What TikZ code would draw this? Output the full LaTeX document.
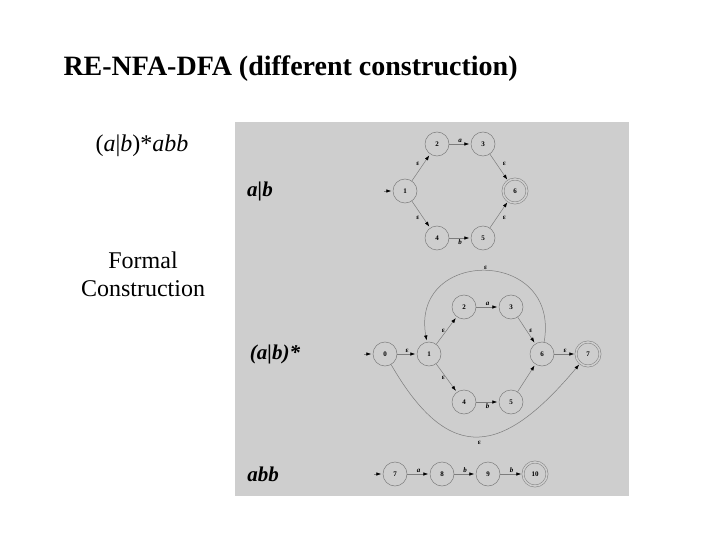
\documentclass[tikz,border=0pt]{standalone}
\usepackage{fontspec}
\setmainfont{Liberation Serif}
\usetikzlibrary{arrows.meta}
\definecolor{panelgray}{RGB}{206,206,206}
\definecolor{linegray}{RGB}{125,125,125}
\tikzset{
  state/.style={circle, draw=linegray, line width=0.5pt, minimum size=24pt, inner sep=0pt,
    font=\fontsize{7}{7}\selectfont\bfseries},
  accept/.style={state, double=panelgray, double distance=1.6pt},
  edge/.style={draw=linegray, line width=0.5pt, -{Latex[length=5pt,width=3.5pt,color=black]}, shorten >=1.5pt},
  lab/.style={font=\fontsize{7}{7}\selectfont\bfseries, inner sep=1.5pt},
  sym/.style={lab, font=\fontsize{7}{7}\selectfont\bfseries\itshape},
  rexp/.style={font=\fontsize{21}{21}\selectfont\bfseries\itshape},
}
\begin{document}
\begin{tikzpicture}[x=1pt,y=1pt]
  \useasboundingbox (0,0) rectangle (720,-540);
  \fill[panelgray] (235,-122) rectangle (629,-496);

  % heading and left column
  \node[anchor=base west, font=\fontsize{28}{28}\selectfont\bfseries] (title) at (60,-76)
    {RE-NFA-DFA (different construction)};
  \node[font=\fontsize{24}{24}\selectfont] (regex) at (142,-146) {(\textit{a}|\textit{b})*\textit{abb}};
  \node[font=\fontsize{24}{28}\selectfont, align=center] (formal) at (143,-274) {Formal\\Construction};

  % labels in the panel
  \node[rexp] (lab1) at (260,-191) {a|b};
  \node[rexp] (lab2) at (275,-354) {(a|b)*};
  \node[rexp] (lab3) at (263,-474) {abb};

  % a|b
  \node[state]  (a1) at (405,-191) {1};
  \node[state]  (a2) at (437,-144) {2};
  \node[state]  (a3) at (483,-144) {3};
  \node[state]  (a4) at (437,-238) {4};
  \node[state]  (a5) at (483,-238) {5};
  \node[accept] (a6) at (515,-191) {6};
  \coordinate (s1) at (384,-191);
  \draw[edge] (s1) -- (a1);
  \draw[edge] (a1) -- node[lab, above left] {ε} (a2);
  \draw[edge] (a2) -- node[sym, above] {a} (a3);
  \draw[edge] (a3) -- node[lab, above right, xshift=2pt] {ε} (a6);
  \draw[edge] (a1) -- node[lab, below left] {ε} (a4);
  \draw[edge] (a4) -- node[sym, below] {b} (a5);
  \draw[edge] (a5) -- node[lab, below right, xshift=2pt] {ε} (a6);

  % (a|b)*
  \node[state]  (b0) at (385,-354) {0};
  \node[state]  (b1) at (429,-354) {1};
  \node[state]  (b2) at (464,-307) {2};
  \node[state]  (b3) at (511,-307) {3};
  \node[state]  (b4) at (464,-402) {4};
  \node[state]  (b5) at (511,-402) {5};
  \node[state]  (b6) at (542,-354) {6};
  \node[accept] (b7) at (588,-354) {7};
  \coordinate (s2) at (364,-354);
  \draw[edge] (s2) -- (b0);
  \draw[edge] (b0) -- node[lab, above] {ε} (b1);
  \draw[edge] (b1) -- node[lab, left] {ε} (b2);
  \draw[edge] (b2) -- node[sym, above] {a} (b3);
  \draw[edge] (b3) -- node[lab, right, xshift=1pt] {ε} (b6);
  \draw[edge] (b1) -- node[lab, left] {ε} (b4);
  \draw[edge] (b4) -- node[sym, below] {b} (b5);
  \draw[edge] (b5) -- (b6);
  \draw[edge] (b6) -- node[lab, above] {ε} (b7);
  \draw[edge] (b6) to[out=80, in=100, looseness=2.1] node[lab, above] {ε} (b1);
  \draw[edge] (b0) to[out=-60, in=-130, looseness=1.6] node[lab, below, yshift=-3pt] {ε} (b7);

  % abb
  \node[state]  (c7)  at (395,-474) {7};
  \node[state]  (c8)  at (442,-474) {8};
  \node[state]  (c9)  at (488,-474) {9};
  \node[accept] (c10) at (535,-474) {10};
  \coordinate (s3) at (374,-474);
  \draw[edge] (s3) -- (c7);
  \draw[edge] (c7) -- node[sym, above] {a} (c8);
  \draw[edge] (c8) -- node[sym, above] {b} (c9);
  \draw[edge] (c9) -- node[sym, above] {b} (c10);
\end{tikzpicture}
\end{document}
